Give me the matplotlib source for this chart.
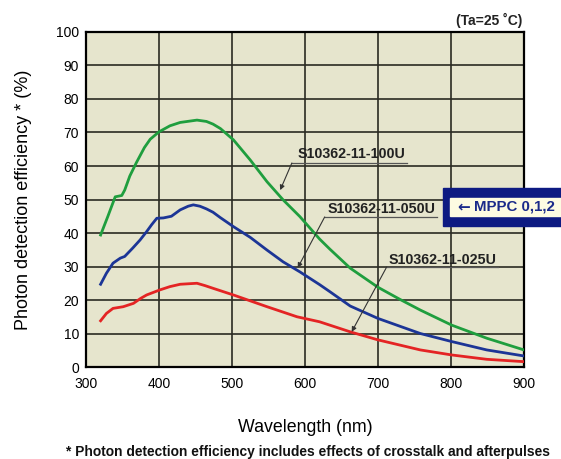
import matplotlib
matplotlib.use("Agg")
import matplotlib.pyplot as plt
from matplotlib.patches import Rectangle

plt.rcParams['font.family'] = ['Liberation Sans', 'DejaVu Sans']

# wavelength (nm) / photon detection efficiency (%)
wl_100u = [320, 330, 340, 349, 353, 360, 369, 380, 388, 400, 415, 429, 452, 465,
           474, 484, 493, 502, 525, 548, 570, 593, 620, 634, 662, 700, 730, 758,
           801, 849, 900]
pde_100u = [39.4, 45, 50.8, 51.2, 52.8, 57, 61, 65.5, 68, 70.2, 72, 73, 73.7, 73.3,
            72.5, 71.2, 69.5, 67.8, 61.8, 55.3, 49.9, 44.9, 38.2, 35.2, 29.5, 23.8, 20.2, 17,
            12.5, 8.6, 5.1]

wl_050u = [320, 328, 337, 347, 353, 364, 374, 383, 390, 397, 406, 417, 429, 440,
           447, 456, 465, 474, 484, 502, 525, 548, 570, 593, 620, 634, 662, 700,
           758, 801, 849, 900]
pde_050u = [24.7, 28, 31, 32.5, 33, 35.5, 37.9, 40.4, 42.5, 44.4, 44.5, 45, 46.9, 48,
            48.4, 48, 47.2, 46.2, 44.6, 41.9, 38.7, 34.9, 31.4, 28.4, 24.6, 22.5, 18.2, 14.5,
            10, 7.6, 5.1, 3.3]

wl_025u = [320, 328, 337, 351, 365, 375, 383, 401, 415, 429, 452, 463, 474, 502,
           548, 589, 620, 662, 700, 758, 801, 849, 900]
pde_025u = [13.8, 16, 17.5, 18, 19, 20.5, 21.5, 23, 24, 24.7, 25, 24.3, 23.5, 21.5,
            18, 15, 13.5, 10.5, 8.1, 5.1, 3.6, 2.3, 1.6]

names = ["S10362-11-100U", "S10362-11-050U", "S10362-11-025U"]
colors = ["#1f9e3e", "#1c3596", "#e42424"]

# label placement: text centre, underline span, arrow tip (data units)
label_pos = [(663, 63.6), (705, 47.2), (788, 31.9)]
underline = [(582, 740, 60.9), (627, 781, 44.8), (712, 864, 29.9)]
tips = [(566, 52.8), (590, 29.6), (664, 10.5)]

fig = plt.figure(figsize=(5.61, 4.59), dpi=100)
ax = fig.add_axes([0.1533, 0.2004, 0.7807, 0.7299])
ax.set_facecolor("#e6e5cd")

for wl, pde, c in zip([wl_100u, wl_050u, wl_025u], [pde_100u, pde_050u, pde_025u], colors):
    ax.plot(wl, pde, color=c, lw=2.0, zorder=3, solid_joinstyle="round")

ax.set_xlim(300, 900)
ax.set_ylim(0, 100)
ax.set_xticks(range(300, 901, 100))
ax.set_yticks(range(0, 101, 10))
ax.grid(True, color="#2a2a22", lw=1.2)
ax.set_axisbelow(True)
for s in ax.spines.values():
    s.set_linewidth(1.6)
ax.tick_params(length=0, labelsize=10, pad=5)
ax.tick_params(axis="x", pad=7)
ax.set_xlabel("Wavelength (nm)", fontsize=12.8, labelpad=20)
ax.set_ylabel("Photon detection efficiency * (%)", fontsize=13, labelpad=17)

for name, (tx, ty), (u0, u1, uy), tip in zip(names, label_pos, underline, tips):
    ax.text(tx, ty, name, ha="center", va="center", fontsize=10.3, fontweight="bold",
            color="#222222", zorder=4)
    ax.plot([u0, u1], [uy, uy], color="#555555", lw=0.9, zorder=2)
    ax.annotate("", xy=tip, xytext=(u0, uy),
                arrowprops=dict(arrowstyle="-|>", color="#333333", lw=0.8,
                                mutation_scale=7, shrinkA=0, shrinkB=0), zorder=4)

fig.text(0.932, 0.956, "(Ta=25 ˚C)", ha="right", va="center", fontsize=10,
         fontweight="bold", color="#222222")

fig.patches.append(Rectangle((443 / 561, 1 - 226 / 459), 0.3, 38 / 459,
                             transform=fig.transFigure, color="#0d1a82", zorder=5))
fig.patches.append(Rectangle((450 / 561, 1 - 216 / 459), 0.3, 18 / 459,
                             transform=fig.transFigure, color="#fdfbe2", zorder=6))
fig.text(457 / 561, 1 - 207 / 459, "←", ha="left", va="center", family="DejaVu Sans",
         fontsize=11, fontweight="bold", color="#1a2a8a", zorder=7)
fig.text(474 / 561, 1 - 207 / 459, "MPPC 0,1,2", ha="left", va="center",
         fontsize=10.8, fontweight="bold", color="#1a2a8a", zorder=7)

fig.text(66 / 561, 1 - 452 / 459, "* Photon detection efficiency includes effects of crosstalk and afterpulses",
         ha="left", va="center", fontsize=9.9, fontweight="bold", color="#111111")

fig.savefig("out.png", dpi=100, facecolor="white")
